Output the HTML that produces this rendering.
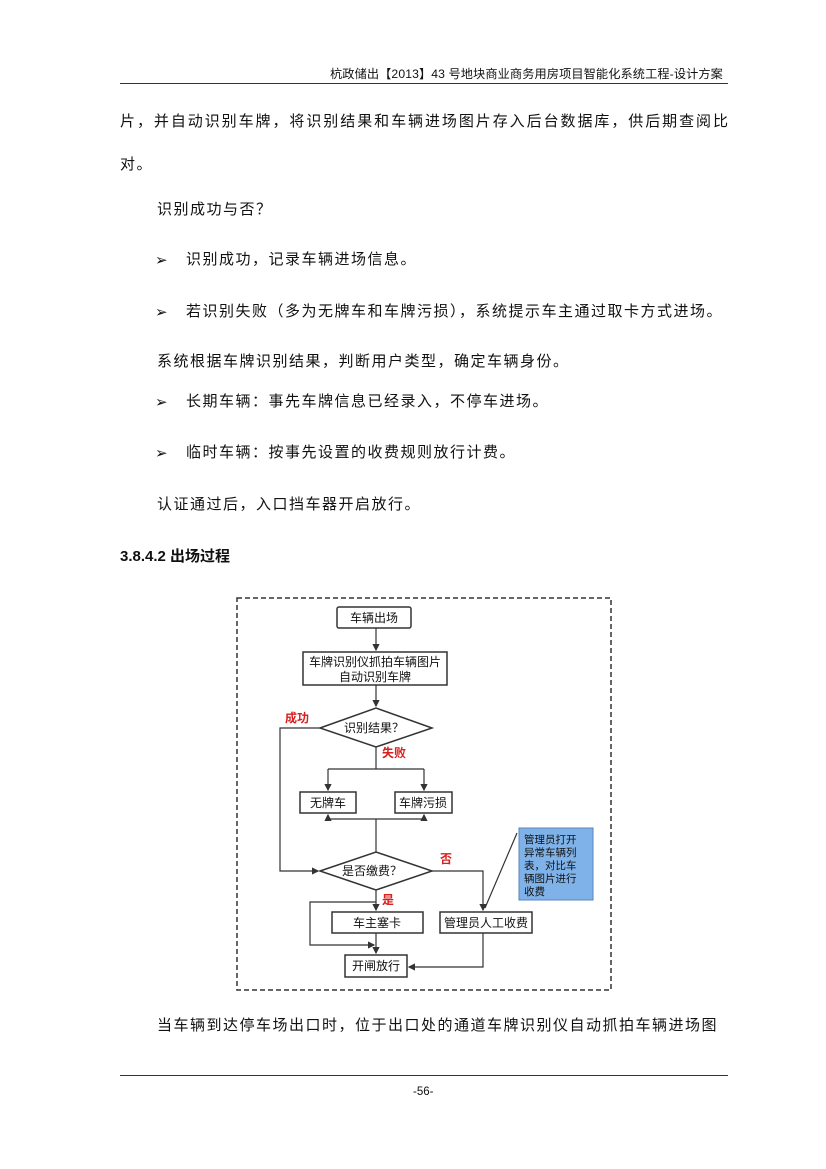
<!DOCTYPE html>
<html><head><meta charset="utf-8"><style>
body{margin:0;width:826px;height:1169px;background:#fff;position:relative;overflow:hidden;font-family:"Liberation Sans","Noto Sans CJK SC",sans-serif;color:#111}
.t{position:absolute;font-size:15px;letter-spacing:1.5px;white-space:nowrap;line-height:18px}
.a{position:absolute;font-size:15px}
</style></head><body>
<div class="t" style="left:330px;top:65px;font-size:12.2px;letter-spacing:0.1px">杭政储出【2013】43 号地块商业商务用房项目智能化系统工程-设计方案</div>
<div style="position:absolute;left:120px;top:83px;width:608px;height:1px;background:#333"></div>
<div class="t" style="left:120px;top:113px;width:608px;letter-spacing:0;text-align:justify;text-align-last:justify">片，并自动识别车牌，将识别结果和车辆进场图片存入后台数据库，供后期查阅比</div>
<div class="t" style="left:120px;top:156px">对。</div>
<div class="t" style="left:157px;top:201px">识别成功与否？</div>
<div class="a" style="left:155px;top:251px">➢</div><div class="t" style="left:186px;top:251px">识别成功，记录车辆进场信息。</div>
<div class="a" style="left:155px;top:303px">➢</div><div class="t" style="left:186px;top:303px">若识别失败（多为无牌车和车牌污损），系统提示车主通过取卡方式进场。</div>
<div class="t" style="left:157px;top:353px">系统根据车牌识别结果，判断用户类型，确定车辆身份。</div>
<div class="a" style="left:155px;top:393px">➢</div><div class="t" style="left:186px;top:393px">长期车辆：事先车牌信息已经录入，不停车进场。</div>
<div class="a" style="left:155px;top:444px">➢</div><div class="t" style="left:186px;top:444px">临时车辆：按事先设置的收费规则放行计费。</div>
<div class="t" style="left:157px;top:496px">认证通过后，入口挡车器开启放行。</div>
<div class="t" style="left:120px;top:548px;font-weight:bold;letter-spacing:0">3.8.4.2 出场过程</div>
<svg style="position:absolute;left:0;top:0" width="826" height="1169" font-family="Liberation Sans,Noto Sans CJK SC,sans-serif" font-size="12">
<defs><marker id="m" markerWidth="6" markerHeight="6" refX="5" refY="3" orient="auto"><path d="M0,0 L6,3 L0,6z" fill="#333"/></marker></defs>
<rect x="237" y="598" width="374" height="392" fill="none" stroke="#333" stroke-width="1.5" stroke-dasharray="5,3"/>
<g stroke="#333" stroke-width="1.5" fill="#fff">
<rect x="337" y="607" width="74" height="21" rx="2"/>
<rect x="303" y="652" width="144" height="33"/>
<polygon points="320,728 376,708 432,728 376,747"/>
<rect x="300" y="792" width="56" height="21"/>
<rect x="395" y="792" width="57" height="21"/>
<polygon points="320,871 376,852 432,871 376,890"/>
<rect x="332" y="912" width="91" height="21"/>
<rect x="440" y="912" width="92" height="21"/>
<rect x="345" y="955" width="62" height="22"/>
</g>
<rect x="519" y="828" width="74" height="72" fill="#7fb2e8" stroke="#5a86b8"/>
<g stroke="#333" stroke-width="1.2" fill="none">
<line x1="376" y1="628" x2="376" y2="650" marker-end="url(#m)"/>
<line x1="376" y1="685" x2="376" y2="706" marker-end="url(#m)"/>
<polyline points="320,728 280,728 280,871 318,871" marker-end="url(#m)"/>
<line x1="376" y1="747" x2="376" y2="769"/>
<polyline points="328,769 424,769"/>
<line x1="328" y1="769" x2="328" y2="790" marker-end="url(#m)"/>
<line x1="424" y1="769" x2="424" y2="790" marker-end="url(#m)"/>
<polyline points="328,819 424,819"/>
<line x1="328" y1="819" x2="328" y2="815" marker-end="url(#m)"/>
<line x1="424" y1="819" x2="424" y2="815" marker-end="url(#m)"/>
<line x1="376" y1="819" x2="376" y2="852"/>
<polyline points="432,871 483,871 483,910" marker-end="url(#m)"/>
<line x1="376" y1="890" x2="376" y2="910" marker-end="url(#m)"/>
<polyline points="376,902 310,902 310,945 374,945" marker-end="url(#m)"/>
<line x1="376" y1="933" x2="376" y2="953" marker-end="url(#m)"/>
<polyline points="483,933 483,967 409,967" marker-end="url(#m)"/>
<line x1="517" y1="833" x2="485" y2="908"/>
</g>
<g fill="#111" text-anchor="middle">
<text x="374" y="622">车辆出场</text>
<text x="375" y="666">车牌识别仪抓拍车辆图片</text>
<text x="375" y="681">自动识别车牌</text>
<text x="374" y="732">识别结果？</text>
<text x="328" y="807">无牌车</text>
<text x="423" y="807">车牌污损</text>
<text x="372" y="875">是否缴费？</text>
<text x="377" y="927">车主塞卡</text>
<text x="486" y="927">管理员人工收费</text>
<text x="376" y="970">开闸放行</text>
</g>
<g fill="#d62020" font-weight="bold" font-size="12">
<text x="285" y="722">成功</text><text x="382" y="757">失败</text>
<text x="440" y="863">否</text><text x="382" y="904">是</text>
</g>
<g fill="#111" font-size="10.5">
<text x="524" y="843">管理员打开</text><text x="524" y="856">异常车辆列</text>
<text x="524" y="869">表，对比车</text><text x="524" y="882">辆图片进行</text><text x="524" y="895">收费</text>
</g>
</svg>
<div class="t" style="left:157px;top:1017px">当车辆到达停车场出口时，位于出口处的通道车牌识别仪自动抓拍车辆进场图</div>
<div style="position:absolute;left:120px;top:1075px;width:608px;height:1px;background:#333"></div>
<div class="t" style="left:413px;top:1083px;font-size:11.5px;letter-spacing:0">-56-</div>
</body></html>
